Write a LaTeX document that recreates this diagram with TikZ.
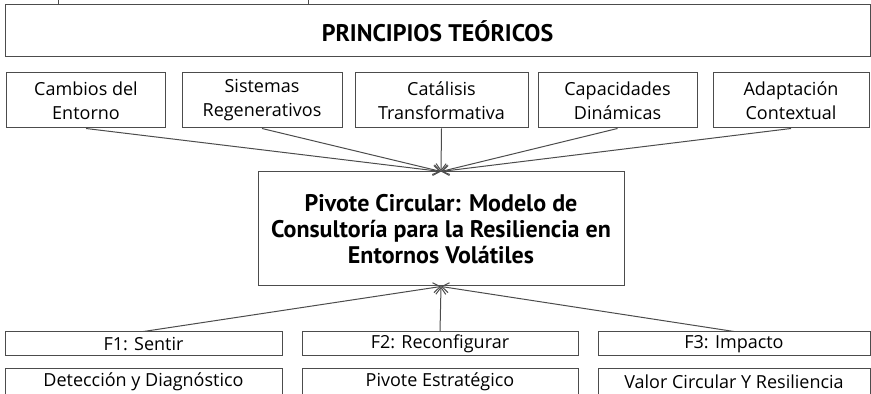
\documentclass[tikz,border=0pt]{standalone}
\usepackage{fontspec}
\setmainfont{Open Sans}
\newfontfamily\titulofont{PT Sans}
\usetikzlibrary{arrows.meta}
\begin{document}
\begin{tikzpicture}[x=0.5pt, y=-0.5pt, font=\fontsize{9}{12}\selectfont,
    >={Straight Barb[length=3.5pt,width=5pt]},
    pbox/.style={draw=black!70, line width=0.5pt, inner sep=0pt, align=center},
    link/.style={->, draw=black!70, line width=0.5pt}]
    \clip (0,0) rectangle (871,394);

    \node[pbox, minimum width=432.5pt, minimum height=26pt, font=\titulofont\bfseries\fontsize{12}{14}\selectfont](principios) at (437.5,31) {PRINCIPIOS TEÓRICOS};
    \coordinate (cortado1) at (58,0);
    \coordinate (cortado2) at (308,0);
    \draw[black!70, line width=0.5pt] (cortado1) -- (cortado1 |- principios.north);
    \draw[black!70, line width=0.5pt] (cortado2) -- (cortado2 |- principios.north);

    \node[pbox, minimum width=79.5pt, minimum height=27.5pt](principio1) at (86,100.5) {Cambios del\\Entorno};
    \node[pbox, minimum width=80pt, minimum height=27.5pt](principio2) at (262,100.5) {Sistemas\\Regenerativos};
    \node[pbox, minimum width=86.5pt, minimum height=27.5pt](principio3) at (441.5,100.5) {Catálisis\\Transformativa};
    \node[pbox, minimum width=79.5pt, minimum height=27.5pt](principio4) at (617.5,100.5) {Capacidades\\Dinámicas};
    \node[pbox, minimum width=78pt, minimum height=27.5pt](principio5) at (791,100.5) {Adaptación\\Contextual};

    \node[pbox, minimum width=183pt, minimum height=57pt, font=\titulofont\bfseries\fontsize{12}{13}\selectfont](pivote) at (441,229) {Pivote Circular: Modelo de\\Consultoría para la Resiliencia en\\Entornos Volátiles};

    \node[pbox, minimum width=138.5pt, minimum height=12pt](fase1) at (143.5,344) {F1: Sentir};
    \node[pbox, minimum width=138pt, minimum height=12pt](fase2) at (440,344) {F2: Reconfigurar};
    \node[pbox, minimum width=136pt, minimum height=12pt](fase3) at (734,344) {F3: Impacto};
    \node[pbox, minimum width=138.5pt, minimum height=13pt](detalle1) at (143.5,382) {Detección y Diagnóstico};
    \node[pbox, minimum width=138pt, minimum height=13pt](detalle2) at (440,382) {Pivote Estratégico};
    \node[pbox, minimum width=136pt, minimum height=13pt](detalle3) at (734,382) {Valor Circular Y Resiliencia};

    \draw[link] (principio1.south) -- (pivote.north);
    \draw[link] (principio2.south) -- (pivote.north);
    \draw[link] (principio3.south) -- (pivote.north);
    \draw[link] (principio4.south) -- (pivote.north);
    \draw[link] (principio5.south) -- (pivote.north);

    \draw[link] (fase1.north) -- (pivote.south);
    \draw[link] (fase2.north) -- (pivote.south);
    \draw[link] (fase3.north) -- (pivote.south);
\end{tikzpicture}
\end{document}
